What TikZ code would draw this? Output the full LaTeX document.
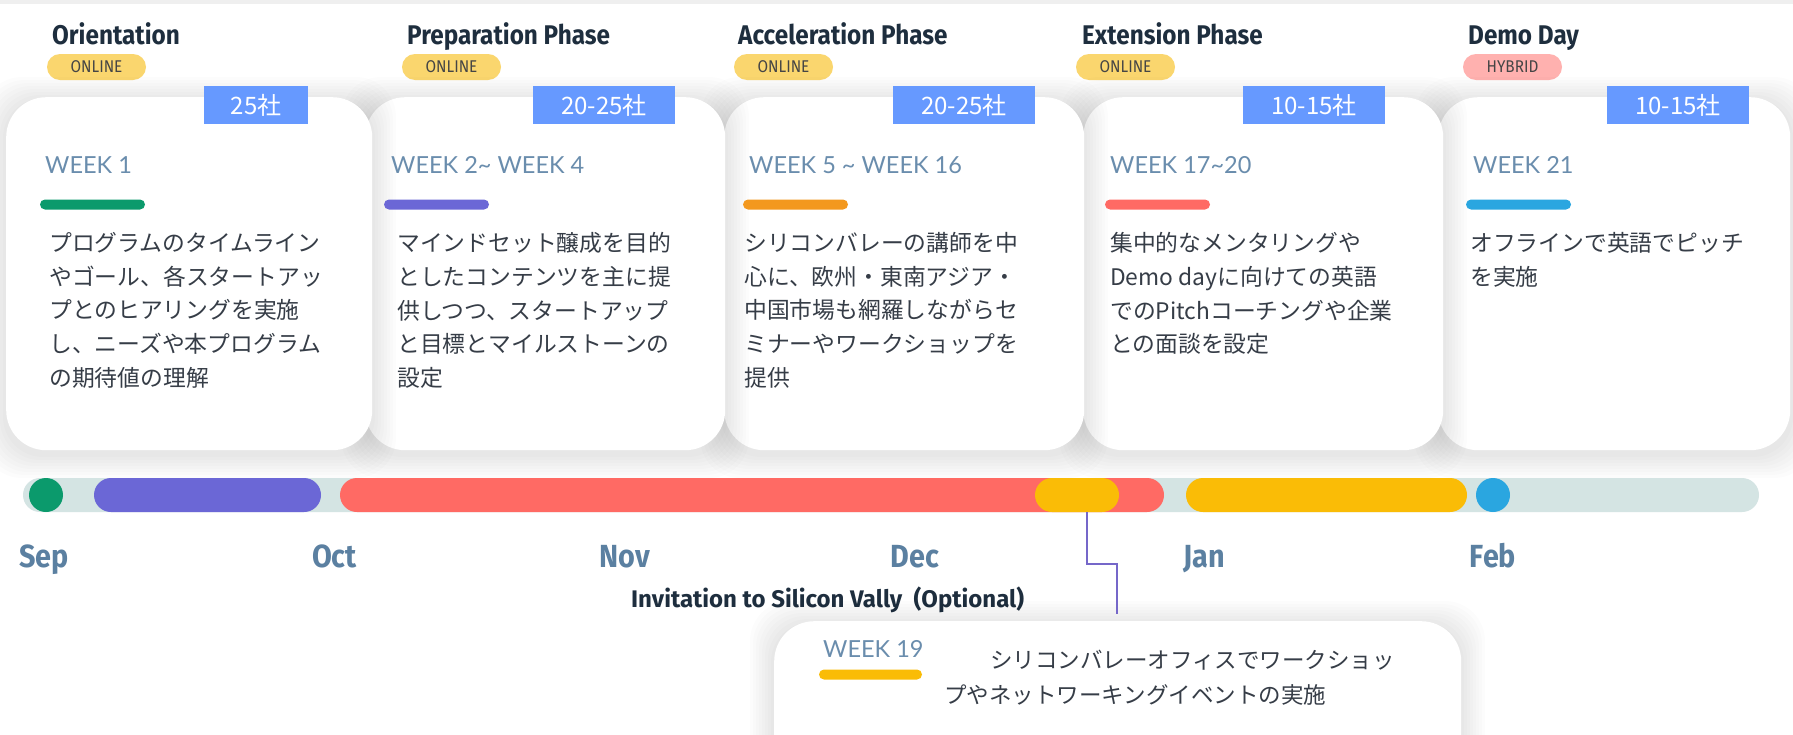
\documentclass[tikz,border=0pt]{standalone}
\usepackage{fontspec}
\setmainfont{Lato}
\newfontfamily\jpfont{Noto Sans CJK JP}
\newfontfamily\headfont[FakeStretch=0.9]{Fira Sans}
\newfontfamily\invfont{Fira Sans}
\newfontfamily\pillfont[FakeStretch=0.9]{Fira Sans}
\newfontfamily\weekfont{Lato}
\definecolor{hdrc}{HTML}{1E2E3E}
\definecolor{pillyel}{HTML}{FAD66E}
\definecolor{pillpink}{HTML}{FFB1AF}
\definecolor{pilltxt}{HTML}{454545}
\definecolor{cntblue}{HTML}{6699FF}
\definecolor{wkc}{HTML}{6A8DAD}
\definecolor{bodyc}{HTML}{363D47}
\definecolor{cgreen}{HTML}{0B9A6C}
\definecolor{cpurple}{HTML}{6B67D6}
\definecolor{corange}{HTML}{F3981E}
\definecolor{cred}{HTML}{FF6A64}
\definecolor{cblue}{HTML}{2AA6E0}
\definecolor{cyellow}{HTML}{FABC06}
\definecolor{trackc}{HTML}{D4E4E3}
\definecolor{monc}{HTML}{5B80A1}
\definecolor{connc}{HTML}{7567C9}
\definecolor{topstrip}{HTML}{EFEFEF}
\newcommand\cardshade[4]{%
  \foreach \d in {3,6,...,24}{%
    \fill[black, opacity=0.012, rounded corners=40pt] ({#1-\d},{#2-\d+4}) rectangle ({#3+\d},{#4+\d+4});
  }%
}
\tikzset{
  card/.style={fill=white, rounded corners=40pt, inner sep=0, anchor=north west, minimum height=353pt},
  hdr/.style={anchor=base west, inner sep=0, font=\headfont\bfseries\fontsize{27}{30}\selectfont, text=hdrc},
  pill/.style={fill=#1, rounded corners=13pt, minimum width=99pt, minimum height=26pt, inner sep=0, font=\pillfont\fontsize{17}{19}\selectfont, text=pilltxt},
  cnt/.style={fill=cntblue, minimum height=38pt, inner sep=0, text=white, font=\jpfont\fontsize{24}{28}\selectfont},
  wk/.style={anchor=base west, inner sep=0, font=\weekfont\fontsize{23.5}{28}\selectfont, text=wkc},
  wbar/.style={fill=#1, rounded corners=5pt, minimum width=105pt, minimum height=10pt, inner sep=0},
  body/.style={anchor=north west, inner sep=0, align=left, font=\jpfont\fontsize{22.8}{33.8}\selectfont, text=bodyc},
  seg/.style={fill=#1, rounded corners=17pt, minimum height=34pt, inner sep=0},
  dot/.style={fill=#1, circle, minimum size=34pt, inner sep=0},
  mon/.style={anchor=base, inner sep=0, font=\headfont\bfseries\fontsize{32}{34}\selectfont, text=monc},
  conn/.style={draw=connc, line width=2pt},
}
\begin{document}
\begin{tikzpicture}[x=1pt,y=-1pt]
\useasboundingbox (0,0) rectangle (1793,734);
\fill[white] (0,0) rectangle (1793,734);
\fill[topstrip] (0,0) rectangle (1793,4);
% headers
\node[hdr] (h1) at (52,44) {Orientation};
\node[hdr] (h2) at (407,44) {Preparation Phase};
\node[hdr] (h3) at (738,44) {Acceleration Phase};
\node[hdr] (h4) at (1082,44) {Extension Phase};
\node[hdr] (h5) at (1468,44) {Demo Day};
\node[pill=pillyel] (p1) at (96.5,67) {ONLINE};
\node[pill=pillyel] (p2) at (451.5,67) {ONLINE};
\node[pill=pillyel] (p3) at (783.5,67) {ONLINE};
\node[pill=pillyel] (p4) at (1125.5,67) {ONLINE};
\node[pill=pillpink] (p5) at (1512.5,67) {HYBRID};
% cards
\cardshade{1438}{97}{1790}{450}
\node[card, minimum width=352pt] (c5) at (1438,97) {};
\cardshade{1083}{97}{1443}{450}
\node[card, minimum width=360pt] (c4) at (1083,97) {};
\cardshade{724}{97}{1084}{450}
\node[card, minimum width=360pt] (c3) at (724,97) {};
\cardshade{365}{97}{725}{450}
\node[card, minimum width=360pt] (c2) at (365,97) {};
\cardshade{6}{97}{372}{450}
\node[card, minimum width=366pt] (c1) at (6,97) {};
% count boxes
\node[cnt, minimum width=104pt] (n1) at (256,105) {25社};
\node[cnt, minimum width=142pt] (n2) at (604,105) {20-25社};
\node[cnt, minimum width=142pt] (n3) at (964,105) {20-25社};
\node[cnt, minimum width=142pt] (n4) at (1314,105) {10-15社};
\node[cnt, minimum width=142pt] (n5) at (1678,105) {10-15社};
% week labels
\node[wk] (w1) at (45,173) {WEEK 1};
\node[wk] (w2) at (391,173) {WEEK 2\textasciitilde{} WEEK 4};
\node[wk] (w3) at (749,173) {WEEK 5 \textasciitilde{} WEEK 16};
\node[wk] (w4) at (1110,173) {WEEK 17\textasciitilde{}20};
\node[wk] (w5) at (1473,173) {WEEK 21};
\node[wbar=cgreen] (b1) at (92.5,204.5) {};
\node[wbar=cpurple] (b2) at (436.5,204.5) {};
\node[wbar=corange] (b3) at (795.5,204.5) {};
\node[wbar=cred] (b4) at (1157.5,204.5) {};
\node[wbar=cblue] (b5) at (1518.5,204.5) {};
% body
\node[body] (t1) at (49,232) {プログラムのタイムライン\\やゴール、各スタートアッ\\プとのヒアリングを実施\\し、ニーズや本プログラム\\の期待値の理解};
\node[body] (t2) at (397,232) {マインドセット醸成を目的\\としたコンテンツを主に提\\供しつつ、スタートアップ\\と目標とマイルストーンの\\設定};
\node[body] (t3) at (744,232) {シリコンバレーの講師を中\\心に、欧州・東南アジア・\\中国市場も網羅しながらセ\\ミナーやワークショップを\\提供};
\node[body] (t4) at (1110,232) {集中的なメンタリングや\\Demo dayに向けての英語\\でのPitchコーチングや企業\\との面談を設定};
\node[body] (t5) at (1470,232) {オフラインで英語でピッチ\\を実施};
% timeline
\node[seg=trackc, minimum width=1736pt] (track) at (891,495) {};
\node[dot=cgreen] (sg1) at (46,495) {};
\node[seg=cpurple, minimum width=227pt] (sg2) at (207.5,495) {};
\node[seg=cred, minimum width=824pt] (sg3) at (752,495) {};
\node[seg=cyellow, minimum width=84pt] (sg4) at (1077,495) {};
\node[seg=cyellow, minimum width=281pt] (sg5) at (1326.5,495) {};
\node[dot=cblue] (sg6) at (1493,495) {};
\node[mon] (m1) at (44,567) {Sep};
\node[mon] (m2) at (334.5,567) {Oct};
\node[mon] (m3) at (625,567) {Nov};
\node[mon] (m4) at (915,567) {Dec};
\node[mon] (m5) at (1204.5,567) {Jan};
\node[mon] (m6) at (1493,567) {Feb};
% optional part
\node[anchor=base west, inner sep=0, font=\invfont\bfseries\fontsize{24}{28}\selectfont, text=hdrc] (inv) at (631,607) {Invitation to Silicon Vally\ \ (Optional)};
\begin{scope}
\clip (0,0) rectangle (1793,734);
\cardshade{774}{621}{1461}{780}
\node[card, minimum width=687pt, minimum height=160pt] (c6) at (774,621) {};
\end{scope}
\coordinate (knee1) at (1087,564);
\coordinate (knee2) at (1117,564);
\coordinate (cend) at (1117,614);
\draw[conn] (sg4.south -| knee1) -- (knee1) -- (knee2) -- (cend);
\node[wk] (w6) at (823,657) {WEEK 19};
\node[wbar=cyellow, minimum width=103pt] (b6) at (870.5,674.5) {};
\node[anchor=north west, inner sep=0, font=\jpfont\fontsize{22.5}{34}\selectfont, text=bodyc] (t6a) at (990,650) {シリコンバレーオフィスでワークショッ};
\node[anchor=north west, inner sep=0, font=\jpfont\fontsize{22.5}{34}\selectfont, text=bodyc] (t6b) at (944,684) {プやネットワーキングイベントの実施};
\end{tikzpicture}
\end{document}
